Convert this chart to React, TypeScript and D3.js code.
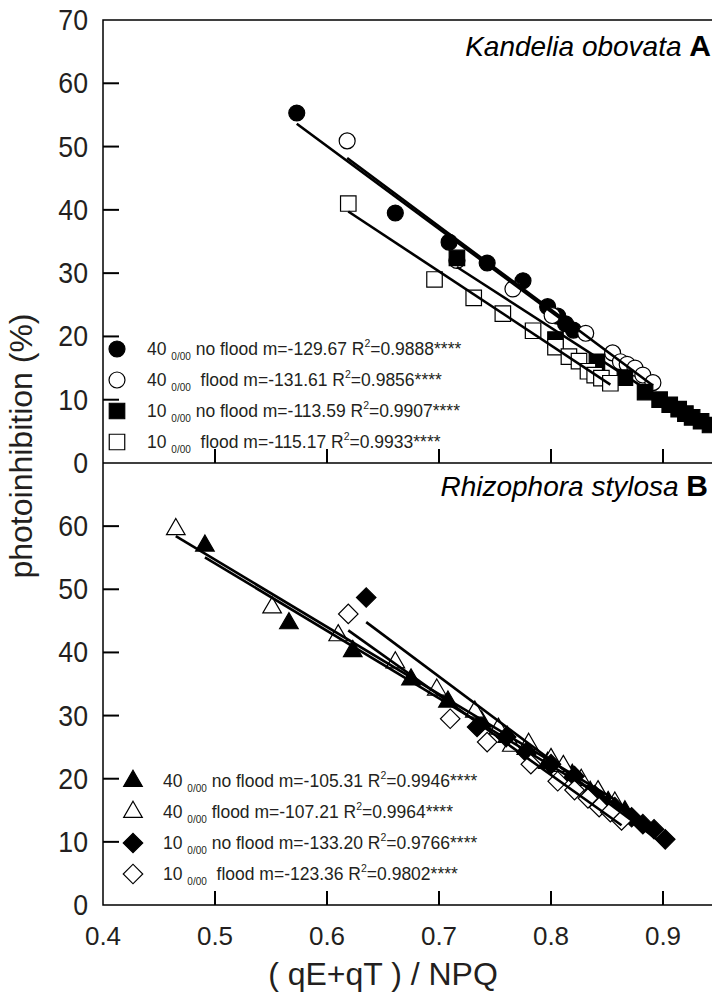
import * as d3 from "d3";
import { useEffect, useRef } from "react";

// axis ticks
const xTicks = [0.4, 0.5, 0.6, 0.7, 0.8, 0.9];
const yTicksTop = [0, 10, 20, 30, 40, 50, 60, 70];
const yTicksBottom = [0, 10, 20, 30, 40, 50, 60];

// panel A - Kandelia obovata, [ (qE+qT)/NPQ , photoinhibition % ]
const ko40NoFlood = [[0.573, 55.3], [0.661, 39.5], [0.709, 34.9], [0.743, 31.6], [0.775, 28.8], [0.797, 24.7], [0.806, 23.2], [0.813, 22.0], [0.820, 21.0]];
const ko40Flood = [[0.618, 50.9], [0.716, 32.0], [0.766, 27.5], [0.801, 23.3], [0.831, 20.5], [0.855, 17.4], [0.862, 16.0], [0.868, 15.6], [0.875, 15.0], [0.882, 13.9], [0.891, 12.7]];
const ko10NoFlood = [[0.716, 32.4], [0.804, 19.5], [0.841, 16.0], [0.866, 13.5], [0.884, 11.2], [0.897, 10.0], [0.906, 9.2], [0.914, 8.5], [0.920, 7.8], [0.926, 7.2], [0.934, 6.6], [0.942, 6.0]];
const ko10Flood = [[0.619, 41.0], [0.696, 29.0], [0.731, 26.1], [0.757, 23.6], [0.784, 20.9], [0.804, 18.3], [0.816, 16.8], [0.825, 16.1], [0.833, 14.5], [0.839, 13.9], [0.845, 13.4], [0.853, 12.6]];

// panel B - Rhizophora stylosa
const rs40NoFlood = [[0.491, 56.9], [0.566, 44.6], [0.623, 40.2], [0.675, 35.7], [0.708, 32.2], [0.738, 29.0], [0.761, 26.6], [0.778, 24.7], [0.797, 22.5], [0.819, 20.6], [0.835, 17.9], [0.851, 16.3], [0.866, 14.8]];
const rs40Flood = [[0.465, 59.5], [0.551, 47.1], [0.610, 42.7], [0.661, 38.4], [0.698, 34.1], [0.732, 30.6], [0.753, 27.9], [0.765, 25.2], [0.780, 25.5], [0.800, 23.1], [0.811, 22.0], [0.827, 19.8], [0.842, 18.0], [0.857, 16.2]];
const rs10NoFlood = [[0.635, 48.7], [0.734, 28.2], [0.760, 26.6], [0.778, 24.2], [0.800, 22.3], [0.821, 20.4], [0.839, 17.4], [0.857, 15.5], [0.872, 13.9], [0.882, 12.8], [0.892, 12.0], [0.902, 10.4]];
const rs10Flood = [[0.619, 46.1], [0.710, 29.5], [0.743, 25.8], [0.782, 22.3], [0.806, 19.6], [0.821, 18.2], [0.833, 16.9], [0.843, 15.5], [0.853, 14.7], [0.863, 13.4]];

// legend texts
const legendSalt = ["40", "40", "10", "10"];
const legendA = [" no flood m=-129.67 R", "  flood m=-131.61 R", " no flood m=-113.59 R", "  flood m=-115.17 R"];
const legendAR2 = ["=0.9888****", "=0.9856****", "=0.9907****", "=0.9933****"];
const legendB = [" no flood m=-105.31 R", " flood m=-107.21 R", " no flood m=-133.20 R", "  flood m=-123.36 R"];
const legendBR2 = ["=0.9946****", "=0.9964****", "=0.9766****", "=0.9802****"];

function fit(pts) {
  const mx = d3.mean(pts, (d) => d[0]);
  const my = d3.mean(pts, (d) => d[1]);
  const sxy = d3.sum(pts, (d) => (d[0] - mx) * (d[1] - my));
  const sxx = d3.sum(pts, (d) => (d[0] - mx) ** 2);
  const m = sxy / sxx;
  const [x0, x1] = d3.extent(pts, (d) => d[0]);
  return [[x0, my + m * (x0 - mx)], [x1, my + m * (x1 - mx)]];
}

export default function App() {
  const ref = useRef(null);

  useEffect(() => {
    const width = 712;
    const svg = d3.select(ref.current);
    svg.selectAll("*").remove();

    const font = "'Liberation Sans', Arial, sans-serif";
    const ink = "#231f20";

    const x = d3.scaleLinear().domain([0.4, 0.9]).range([103, 663]);
    const yA = d3.scaleLinear().domain([0, 70]).range([463, 20]);
    const yB = d3.scaleLinear().domain([0, 70]).range([905, 463]);

    const symCircle = d3.symbol().type(d3.symbolCircle).size(200)();
    const symSquare = d3.symbol().type(d3.symbolSquare).size(240)();
    const symTriangle = d3.symbol().type(d3.symbolTriangle).size(150)();
    const symDiamond = d3.symbol().type(d3.symbolSquare).size(190)();

    const panels = [
      {
        y: yA, ticks: yTicksTop, title: "Kandelia obovata ", letter: "A", titleX: 711, titleY: 56,
        series: [
          { data: ko40NoFlood, sym: symCircle, fill: "#000", rot: 0 },
          { data: ko40Flood, sym: symCircle, fill: "#fff", rot: 0 },
          { data: ko10NoFlood, sym: symSquare, fill: "#000", rot: 0 },
          { data: ko10Flood, sym: symSquare, fill: "#fff", rot: 0 },
        ],
        legend: legendA, r2: legendAR2, legX: 117, legY: 349,
      },
      {
        y: yB, ticks: yTicksBottom, title: "Rhizophora stylosa ", letter: "B", titleX: 708, titleY: 496,
        series: [
          { data: rs40NoFlood, sym: symTriangle, fill: "#000", rot: 0 },
          { data: rs40Flood, sym: symTriangle, fill: "#fff", rot: 0 },
          { data: rs10NoFlood, sym: symDiamond, fill: "#000", rot: 45 },
          { data: rs10Flood, sym: symDiamond, fill: "#fff", rot: 45 },
        ],
        legend: legendB, r2: legendBR2, legX: 133, legY: 781,
      },
    ];

    panels.forEach((p) => {
      const g = svg.append("g");
      const y0 = p.y(0);

      // markers
      p.series.forEach((s) => {
        g.selectAll(null)
          .data(s.data)
          .join("path")
          .attr("d", s.sym)
          .attr("transform", (d) => `translate(${x(d[0])},${p.y(d[1])}) rotate(${s.rot})`)
          .attr("fill", s.fill)
          .attr("stroke", "#000")
          .attr("stroke-width", 1.2);
      });

      // regression lines
      p.series.forEach((s) => {
        const seg = fit(s.data);
        g.append("line")
          .attr("x1", x(seg[0][0]))
          .attr("y1", p.y(seg[0][1]))
          .attr("x2", x(seg[1][0]))
          .attr("y2", p.y(seg[1][1]))
          .attr("stroke", "#000")
          .attr("stroke-width", 2.6);
      });

      // y ticks + labels
      g.selectAll(null)
        .data(p.ticks.filter((t) => t > 0 && t < 70))
        .join("line")
        .attr("x1", 103).attr("x2", 119)
        .attr("y1", (d) => p.y(d)).attr("y2", (d) => p.y(d))
        .attr("stroke", "#000").attr("stroke-width", 2);
      g.selectAll(null)
        .data(p.ticks)
        .join("text")
        .attr("transform", (d) => `translate(88,${p.y(d) + 10}) scale(0.92,1)`)
        .attr("text-anchor", "end")
        .attr("font-family", font)
        .attr("font-size", 29)
        .attr("fill", ink)
        .text((d) => d);

      // x ticks (inward)
      g.selectAll(null)
        .data(xTicks.slice(1))
        .join("line")
        .attr("x1", (d) => x(d)).attr("x2", (d) => x(d))
        .attr("y1", y0).attr("y2", y0 - 14)
        .attr("stroke", "#000").attr("stroke-width", 2);

      // title
      const t = g.append("text")
        .attr("x", p.titleX).attr("y", p.titleY)
        .attr("text-anchor", "end")
        .attr("font-family", font)
        .attr("font-size", 28)
        .attr("fill", "#000");
      t.append("tspan").attr("font-style", "italic").text(p.title);
      t.append("tspan").attr("font-weight", "bold").attr("font-size", 30).text(p.letter);

      // legend
      p.series.forEach((s, i) => {
        const ly = p.legY + i * 31;
        g.append("path")
          .attr("d", s.sym)
          .attr("transform", `translate(${p.legX},${ly}) rotate(${s.rot})`)
          .attr("fill", s.fill)
          .attr("stroke", "#000")
          .attr("stroke-width", 1.2);
        const lt = g.append("text")
          .attr("x", p.legX + 30)
          .attr("y", ly + 6)
          .attr("font-family", font)
          .attr("font-size", 17.5)
          .attr("fill", ink)
          .style("white-space", "pre");
        lt.append("tspan").text(legendSalt[i] + " ");
        lt.append("tspan").attr("font-size", 10).attr("dy", 5).text("0/00");
        lt.append("tspan").attr("dy", -5).text(p.legend[i]);
        lt.append("tspan").attr("font-size", 10.5).attr("dy", -8).text("2");
        lt.append("tspan").attr("dy", 8).text(p.r2[i]);
      });
    });

    // frame
    svg.append("path")
      .attr("d", `M${width + 10},20H103V905H${width + 10}M103,463H${width + 10}`)
      .attr("fill", "none")
      .attr("stroke", "#000")
      .attr("stroke-width", 1.5);

    // x tick labels
    svg.selectAll(null)
      .data(xTicks)
      .join("text")
      .attr("x", (d) => x(d))
      .attr("y", 945)
      .attr("text-anchor", "middle")
      .attr("font-family", font)
      .attr("font-size", 26)
      .attr("fill", ink)
      .text((d) => d.toFixed(1));

    // axis titles
    svg.append("text")
      .attr("transform", "translate(32,446) rotate(-90)")
      .attr("text-anchor", "middle")
      .attr("font-family", font)
      .attr("font-size", 32)
      .attr("fill", ink)
      .text("photoinhibition (%)");

    svg.append("text")
      .attr("x", 383)
      .attr("y", 985)
      .attr("text-anchor", "middle")
      .attr("font-family", font)
      .attr("font-size", 32)
      .attr("fill", ink)
      .style("white-space", "pre")
      .text("( qE+qT ) / NPQ");
  }, []);

  return (
    <div>
      <style>{`body{margin:0}`}</style>
      <svg ref={ref} width={712} height={994} style={{ display: "block", background: "#fff" }} />
    </div>
  );
}
